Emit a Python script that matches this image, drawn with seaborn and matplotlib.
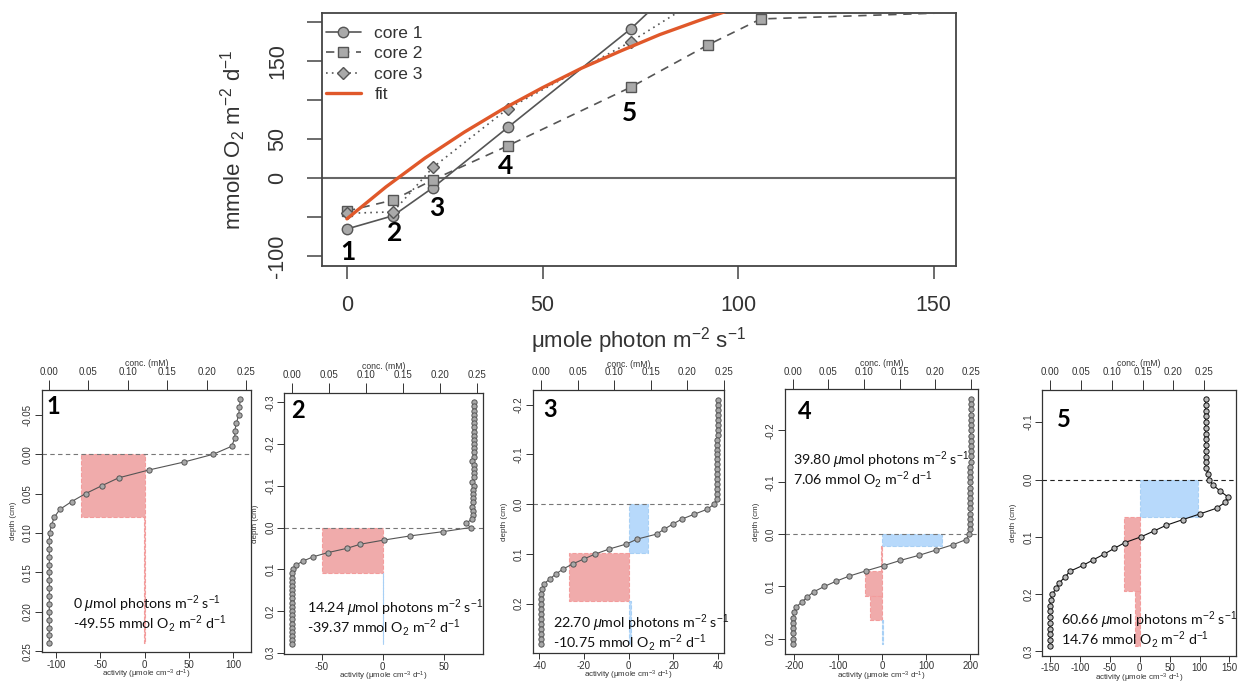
import matplotlib
matplotlib.use("Agg")
import matplotlib.pyplot as plt
import seaborn as sns

# ---- light response (top panel) ----
light = [0, 11.8, 22.0, 41.1, 72.6, 92.4, 105.8, 160]
core1 = [-65, -48, -12, 65, 191.5, 285, 330, 360]
core2 = [-42, -28, -2, 41.5, 116.7, 171, 204, 213]
core3 = [-45, -43, 14, 89, 175, 237, 280, 310]
fit_light = [0, 10, 20, 30, 40, 50, 60, 70, 80, 90, 100]
fit_rate = [-52, -11, 26, 59, 89, 116, 141, 163, 184, 202, 219]
point_labels = ['1', '2', '3', '4', '5']
point_x = [0.2, 12.3, 22.9, 40.6, 72.3]
point_y = [-94, -70, -38, 16, 83]

# ---- microprofiles (bottom panels) ----
depth_1 = [-0.07, -0.06, -0.05, -0.04, -0.03, -0.02, -0.01, 0.00, 0.01, 0.02, 0.03,
           0.04, 0.05, 0.06, 0.07, 0.08, 0.09, 0.10, 0.11, 0.12, 0.13, 0.14, 0.15,
           0.16, 0.17, 0.18, 0.19, 0.20, 0.21, 0.22, 0.23, 0.24]
conc_1 = [0.2426, 0.2413, 0.2405, 0.2376, 0.2355, 0.2355, 0.2313, 0.2083, 0.1707,
          0.1267, 0.0882, 0.0669, 0.0464, 0.0289, 0.0138, 0.0067, 0.0033, 0.0008,
          0.0005, 0.0004, 0.0004, 0.0005, 0.0004, 0.0004, 0.0005, 0.0004, 0.0004,
          0.0004, 0.0005, 0.0004, 0.0004, 0.0004]

depth_2 = [-0.30, -0.29, -0.28, -0.27, -0.26, -0.25, -0.24, -0.23, -0.22, -0.21,
           -0.20, -0.19, -0.18, -0.17, -0.16, -0.15, -0.14, -0.13, -0.12, -0.11,
           -0.10, -0.09, -0.08, -0.07, -0.06, -0.05, -0.04, -0.03, -0.02, -0.01,
           0.00, 0.01, 0.02, 0.03, 0.04, 0.05, 0.06, 0.07, 0.08, 0.09, 0.10, 0.11,
           0.12, 0.13, 0.14, 0.15, 0.16, 0.17, 0.18, 0.19, 0.20, 0.21, 0.22, 0.23,
           0.24, 0.25, 0.26, 0.27, 0.28]
conc_2 = [0.2462, 0.2462, 0.2461, 0.2461, 0.2460, 0.2460, 0.2461, 0.2460, 0.2460,
          0.2459, 0.2460, 0.2459, 0.2459, 0.2458, 0.2425, 0.2458, 0.2457, 0.2457,
          0.2456, 0.2432, 0.2450, 0.2448, 0.2449, 0.2447, 0.2446, 0.2430, 0.2440,
          0.2445, 0.2425, 0.2350, 0.2410, 0.2034, 0.1598, 0.1243, 0.0924, 0.0741,
          0.0489, 0.0291, 0.0157, 0.0054, 0.0013, 0.0003, 0.0003, 0.0003, 0.0003,
          0.0003, 0.0003, 0.0003, 0.0003, 0.0003, 0.0003, 0.0003, 0.0003, 0.0003,
          0.0003, 0.0003, 0.0003, 0.0003, 0.0003]

depth_3 = [-0.21, -0.20, -0.19, -0.18, -0.17, -0.16, -0.15, -0.14, -0.13, -0.12,
           -0.11, -0.10, -0.09, -0.08, -0.07, -0.06, -0.05, -0.04, -0.03, -0.02,
           -0.01, 0.00, 0.01, 0.02, 0.03, 0.04, 0.05, 0.06, 0.07, 0.08, 0.09, 0.10,
           0.11, 0.12, 0.13, 0.14, 0.15, 0.16, 0.17, 0.18, 0.19, 0.20, 0.21, 0.22,
           0.23, 0.24, 0.25, 0.26, 0.27, 0.28]
conc_3 = [0.2414, 0.2414, 0.2413, 0.2413, 0.2413, 0.2412, 0.2412, 0.2412, 0.2411,
          0.2411, 0.2411, 0.2410, 0.2410, 0.2410, 0.2409, 0.2409, 0.2408, 0.2408,
          0.2407, 0.2405, 0.2400, 0.2363, 0.2272, 0.2095, 0.1922, 0.1799, 0.1685,
          0.1580, 0.1316, 0.1166, 0.0933, 0.0742, 0.0587, 0.0433, 0.0305, 0.0205,
          0.0123, 0.0041, 0.0010, 0.0002, 0.0002, 0.0002, 0.0002, 0.0002, 0.0002,
          0.0002, 0.0002, 0.0002, 0.0002, 0.0002]

depth_4 = [-0.26, -0.25, -0.24, -0.23, -0.22, -0.21, -0.20, -0.19, -0.18, -0.17,
           -0.16, -0.15, -0.14, -0.13, -0.12, -0.11, -0.10, -0.09, -0.08, -0.07,
           -0.06, -0.05, -0.04, -0.03, -0.02, -0.01, 0.00, 0.01, 0.02, 0.03, 0.04,
           0.05, 0.06, 0.07, 0.08, 0.09, 0.10, 0.11, 0.12, 0.13, 0.14, 0.15, 0.16,
           0.17, 0.18, 0.19, 0.20, 0.21]
conc_4 = [0.2497, 0.2497, 0.2496, 0.2496, 0.2496, 0.2495, 0.2495, 0.2495, 0.2495,
          0.2494, 0.2494, 0.2494, 0.2494, 0.2493, 0.2493, 0.2493, 0.2492, 0.2492,
          0.2492, 0.2491, 0.2491, 0.2490, 0.2490, 0.2489, 0.2488, 0.2485, 0.2472,
          0.2430, 0.2243, 0.2009, 0.1775, 0.1509, 0.1276, 0.1028, 0.0794, 0.0607,
          0.0443, 0.0299, 0.0205, 0.0126, 0.0046, 0.0018, 0.0005, 0.0005, 0.0005,
          0.0005, 0.0005, 0.0005]

depth_5 = [-0.14, -0.13, -0.12, -0.11, -0.10, -0.09, -0.08, -0.07, -0.06, -0.05,
           -0.04, -0.03, -0.02, -0.01, 0.00, 0.01, 0.02, 0.03, 0.04, 0.05, 0.06,
           0.07, 0.08, 0.09, 0.10, 0.11, 0.12, 0.13, 0.14, 0.15, 0.16, 0.17, 0.18,
           0.19, 0.20, 0.21, 0.22, 0.23, 0.24, 0.25, 0.26, 0.27, 0.28, 0.29]
conc_5 = [0.2522, 0.2521, 0.2522, 0.2521, 0.2520, 0.2521, 0.2522, 0.2521, 0.2520,
          0.2521, 0.2522, 0.2523, 0.2530, 0.2565, 0.2576, 0.2646, 0.2754, 0.2878,
          0.2835, 0.2700, 0.2430, 0.2150, 0.1879, 0.1680, 0.1474, 0.1215, 0.1042,
          0.0880, 0.0702, 0.0530, 0.0324, 0.0243, 0.0151, 0.0097, 0.0038, 0.0010,
          0.0003, 0.0003, 0.0003, 0.0003, 0.0003, 0.0003, 0.0003, 0.0003]

# activity layers: top depth, bottom depth, rate
layer_top_1 = [0.00, 0.08]
layer_bot_1 = [0.08, 0.24]
layer_act_1 = [-72, -1.2]
layer_top_2 = [0.00, 0.11]
layer_bot_2 = [0.11, 0.28]
layer_act_2 = [-50, 0.5]
layer_top_3 = [0.00, 0.098, 0.195]
layer_bot_3 = [0.098, 0.195, 0.28]
layer_act_3 = [8.8, -26.8, 1.2]
layer_top_4 = [0.00, 0.022, 0.07, 0.1175, 0.165]
layer_bot_4 = [0.022, 0.07, 0.1175, 0.165, 0.21]
layer_act_4 = [135, -2.0, -39, -27.8, 1.0]
layer_top_5 = [0.00, 0.065, 0.195]
layer_bot_5 = [0.065, 0.195, 0.29]
layer_act_5 = [98, -26, -8]

light_levels = ['0', '14.24', '22.70', '39.80', '60.66']
o2_fluxes = ['-49.55', '-39.37', '-10.75', '7.06', '14.76']

W, H = 1242, 685

sns.set_theme(style="ticks")
plt.rcParams['font.family'] = ['Liberation Sans', 'DejaVu Sans']
plt.rcParams['mathtext.fontset'] = 'custom'
plt.rcParams['mathtext.rm'] = 'Liberation Sans'
plt.rcParams['mathtext.it'] = 'Liberation Sans:italic'
plt.rcParams['mathtext.bf'] = 'Liberation Sans:bold'
CALI = ['Lato', 'DejaVu Sans']

fig = plt.figure(figsize=(W / 100, H / 100), dpi=100)
fig.patch.set_facecolor('white')


def px_axes(left, top, right, bottom):
    return fig.add_axes([left / W, 1 - bottom / H, (right - left) / W, (bottom - top) / H])


# ================= top: P-I curve =================
ax = px_axes(321.5, 12.7, 956, 265.7)
ax.axhline(0, color='#666666', lw=1.5, zorder=1)
core_specs = [('core 1', core1, 'o', '-', 7.5),
              ('core 2', core2, 's', (0, (5, 4)), 6.5),
              ('core 3', core3, 'D', (0, (1, 2.5)), 6.0)]
for name, vals, mk, ls, ms in core_specs:
    sns.lineplot(x=light, y=vals, ax=ax, estimator=None, sort=False,
                 color='#555555', linestyle=ls, lw=1.2, marker=mk, markersize=ms,
                 markerfacecolor='#A9A9A9', markeredgecolor='#555555',
                 markeredgewidth=1.0, label=name, zorder=3)
sns.lineplot(x=fit_light, y=fit_rate, ax=ax, estimator=None, sort=False,
             color='#E0582A', lw=2.4, label='fit', zorder=4)

ax.set_xlim(-6.5, 155.7)
ax.set_ylim(-112, 212)
ax.set_xticks([0, 50, 100, 150])
ax.set_xticklabels(['0', '50', '100', '150'])
ax.set_yticks([-100, -50, 0, 50, 100, 150, 200])
ax.set_yticklabels(['-100', '', '0', '50', '', '150', ''], rotation=90, va='center')
ax.tick_params(axis='x', direction='out', length=9, width=1.1, color='#444444',
               labelsize=15.5, labelcolor='#333333', pad=12)
ax.tick_params(axis='y', direction='out', length=11, width=1.1, color='#444444',
               labelsize=15.5, labelcolor='#333333', pad=13)
for s in ax.spines.values():
    s.set_color('#444444')
    s.set_linewidth(1.3)
ax.set_xlabel('\u03bcmole photon m$^{-2}$ s$^{-1}$', fontsize=16, color='#333333', va='center')
ax.xaxis.set_label_coords(0.5, -0.294)
ax.set_ylabel('mmole O$_2$ m$^{-2}$ d$^{-1}$', fontsize=16, color='#333333', va='center')
ax.yaxis.set_label_coords(-0.139, 0.5)

leg = ax.legend(loc='upper left', bbox_to_anchor=(0.0, 0.965), frameon=False,
                fontsize=12.5, handlelength=2.0, handletextpad=0.8,
                labelspacing=0.3, borderaxespad=0.0, borderpad=0.25)
for t in leg.get_texts():
    t.set_color('#333333')

for lab, xx, yy in zip(point_labels, point_x, point_y):
    ax.text(xx, yy, lab, ha='center', va='center', fontsize=19, fontweight='bold',
            family=CALI, color='black', zorder=6)

# ================= bottom: microprofiles =================
panels = [
    dict(box=(41.7, 390, 251, 651.7), depth=depth_1, conc=conc_1,
         tops=layer_top_1, bots=layer_bot_1, act=layer_act_1,
         act_lim=(-116, 120), conc_lim=(-0.0092, 0.256), depth_lim=(0.2506, -0.0815),
         act_ticks=[-100, -50, 0, 50, 100],
         depth_ticks=[-0.05, 0.00, 0.05, 0.10, 0.15, 0.20, 0.25], dfmt='%.2f',
         text_xy=(73.3, 604), num_xy=(53.3, 406.7), dark=False),
    dict(box=(284.3, 392.7, 482.7, 654), depth=depth_2, conc=conc_2,
         tops=layer_top_2, bots=layer_bot_2, act=layer_act_2,
         act_lim=(-81, 82.2), conc_lim=(-0.01, 0.2573), depth_lim=(0.303, -0.323),
         act_ticks=[-50, 0, 50],
         depth_ticks=[-0.3, -0.2, -0.1, 0.0, 0.1, 0.2, 0.3], dfmt='%.1f',
         text_xy=(307.3, 608), num_xy=(298.3, 410), dark=False),
    dict(box=(532.7, 390, 724.3, 653.3), depth=depth_3, conc=conc_3,
         tops=layer_top_3, bots=layer_bot_3, act=layer_act_3,
         act_lim=(-42.9, 42.7), conc_lim=(-0.0113, 0.2504), depth_lim=(0.2996, -0.2296),
         act_ticks=[-40, -20, 0, 20, 40],
         depth_ticks=[-0.2, -0.1, 0.0, 0.1, 0.2], dfmt='%.1f',
         text_xy=(552.7, 622.7), num_xy=(550, 409.3), dark=False),
    dict(box=(785, 389.3, 977.7, 653.5), depth=depth_4, conc=conc_4,
         tops=layer_top_4, bots=layer_bot_4, act=layer_act_4,
         act_lim=(-221, 217), conc_lim=(-0.0108, 0.2594), depth_lim=(0.2288, -0.2788),
         act_ticks=[-200, -100, 0, 100, 200],
         depth_ticks=[-0.2, -0.1, 0.0, 0.1, 0.2], dfmt='%.1f',
         text_xy=(792.7, 460), num_xy=(805, 411.7), dark=False),
    dict(box=(1042.3, 389.5, 1236, 655.5), depth=depth_5, conc=conc_5,
         tops=layer_top_5, bots=layer_bot_5, act=layer_act_5,
         act_lim=(-163, 161), conc_lim=(-0.0125, 0.3013), depth_lim=(0.307, -0.157),
         act_ticks=[-150, -100, -50, 0, 50, 100, 150],
         depth_ticks=[-0.1, 0.0, 0.1, 0.2, 0.3], dfmt='%.1f',
         text_xy=(1060.7, 620), num_xy=(1064.3, 419.3), dark=True),
]

RED, RED_EDGE = '#F0ABAB', '#F39C9C'
BLUE, BLUE_EDGE = '#B7D9FB', '#A8D0F5'

for i, p in enumerate(panels):
    l, t, r, b = p['box']
    pa = px_axes(l, t, r, b)
    pc = pa.twiny()

    heights = [bb - tt for tt, bb in zip(p['tops'], p['bots'])]
    fills = [BLUE if a > 0 else RED for a in p['act']]
    edges = [BLUE_EDGE if a > 0 else RED_EDGE for a in p['act']]
    pa.barh(p['tops'], p['act'], height=heights, left=0, align='edge',
            color=fills, edgecolor=edges, linestyle='--', linewidth=0.8, zorder=1)

    zero_c = '#222222' if p['dark'] else '#777777'
    pa.axhline(0, color=zero_c, ls=(0, (4, 3)), lw=0.8, zorder=2)

    line_c = '#111111' if p['dark'] else '#555555'
    face_c = '#BBBBBB' if p['dark'] else '#A8A8A8'
    sns.lineplot(x=p['conc'], y=p['depth'], ax=pc, estimator=None, sort=False,
                 color=line_c, lw=0.8, marker='o', markersize=3.8,
                 markerfacecolor=face_c, markeredgecolor=line_c, markeredgewidth=0.7)

    pa.set_xlim(*p['act_lim'])
    pc.set_xlim(*p['conc_lim'])
    pa.set_ylim(*p['depth_lim'])

    pa.set_xticks(p['act_ticks'])
    pa.set_xticklabels([str(v) for v in p['act_ticks']])
    pa.set_yticks(p['depth_ticks'])
    pa.set_yticklabels([p['dfmt'] % v for v in p['depth_ticks']], rotation=90, va='center')
    pc.set_xticks([0.00, 0.05, 0.10, 0.15, 0.20, 0.25])
    pc.set_xticklabels(['0.00', '0.05', '0.10', '0.15', '0.20', '0.25'])

    pa.tick_params(axis='x', direction='out', length=4.5, width=0.7, color='#333333',
                   labelsize=7, labelcolor='#333333', pad=1.2)
    pa.tick_params(axis='y', direction='out', length=5, width=0.7, color='#333333',
                   labelsize=7, labelcolor='#333333', pad=1.5)
    pc.tick_params(axis='x', direction='out', length=7, width=0.7, color='#333333',
                   labelsize=7, labelcolor='#333333', pad=2.2)
    for s in pa.spines.values():
        s.set_color('#333333')
        s.set_linewidth(0.9)
    for s in pc.spines.values():
        s.set_visible(False)

    bh = b - t
    pa.set_xlabel('activity (\u03bcmole cm$^{-3}$ d$^{-1}$)', fontsize=5.8,
                  color='#333333', va='center')
    pa.xaxis.set_label_coords(0.5, -22.5 / bh)
    pa.set_ylabel('depth (cm)', fontsize=5.8, color='#333333', va='center')
    pa.yaxis.set_label_coords(-28.4 / (r - l), 0.5)
    pc.set_xlabel('conc. (mM)', fontsize=6.2, color='#333333', va='center')
    pc.xaxis.set_label_coords(0.5, 1 + 26 / bh)

    tx, ty = p['text_xy']
    fig.text(tx / W, 1 - ty / H,
             f"{light_levels[i]} $\\mu$mol photons m$^{{-2}}$ s$^{{-1}}$",
             fontsize=10.3, family=CALI, ha='left', va='center', color='#111111')
    fig.text(tx / W, 1 - (ty + 20) / H,
             f"{o2_fluxes[i]} mmol O$_2$ m$^{{-2}}$ d$^{{-1}}$",
             fontsize=10.3, family=CALI, ha='left', va='center', color='#111111')
    nx, ny = p['num_xy']
    fig.text(nx / W, 1 - ny / H, point_labels[i], fontsize=17, fontweight='bold',
             family=CALI, ha='center', va='center', color='black')

fig.savefig('out.png', dpi=100, facecolor='white')
